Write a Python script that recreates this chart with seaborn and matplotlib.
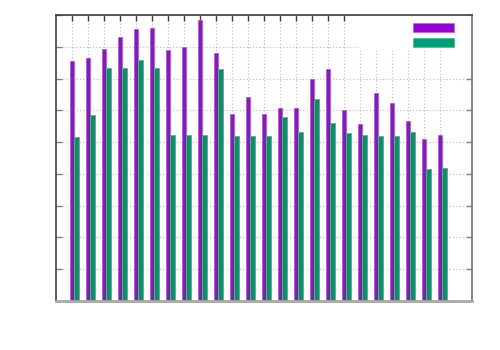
import matplotlib
matplotlib.use('Agg')
import matplotlib.pyplot as plt
from matplotlib.patches import Patch, Rectangle
import pandas as pd
import seaborn as sns

# Data (no labels shown in the original)
categories = ['c01', 'c02', 'c03', 'c04', 'c05', 'c06', 'c07', 'c08',
              'c09', 'c10', 'c11', 'c12', 'c13', 'c14', 'c15', 'c16',
              'c17', 'c18', 'c19', 'c20', 'c21', 'c22', 'c23', 'c24']
series_a = [7.57, 7.64, 7.94, 8.30, 8.58, 8.61, 7.91, 8.00,
            8.84, 7.82, 5.88, 6.42, 5.89, 6.08, 6.08, 7.00,
            7.30, 6.01, 5.56, 6.55, 6.23, 5.67, 5.11, 5.23]
series_b = [5.17, 5.86, 7.34, 7.35, 7.60, 7.33, 5.21, 5.22,
            5.22, 7.30, 5.20, 5.19, 5.19, 5.80, 5.31, 6.35,
            5.60, 5.30, 5.23, 5.19, 5.19, 5.31, 4.16, 4.18]

df = pd.DataFrame({
    'cat': categories * 2,
    'value': series_a + series_b,
    'series': ['a'] * len(categories) + ['b'] * len(categories),
})

purple = '#9400d3'
green = '#009e73'

sns.set_style('white')
fig = plt.figure(figsize=(5, 3.5), dpi=100)
ax = fig.add_axes([0.1126, 0.1409, 0.832, 0.8154])

sns.barplot(data=df, x='cat', y='value', hue='series', order=categories,
            palette=[purple, green], width=0.54, dodge=True, ax=ax,
            legend=False, zorder=2)

# lighter rim like the anti-aliased gnuplot boxes
for bar in ax.patches:
    fc = bar.get_facecolor()
    rim = tuple(c + (1 - c) * 0.3 for c in fc[:3])
    bar.set_edgecolor(rim)
    bar.set_linewidth(0.6)

n = len(categories)
ax.set_xlim(-1.135, n - 1 - 0.135 + 2)
ax.set_ylim(0, 9)
ax.set_xticks([i - 0.135 for i in range(n)])
ax.set_yticks(range(10))
ax.set_xticklabels([])
ax.set_yticklabels([])
ax.set_xlabel('')
ax.set_ylabel('')

ax.set_axisbelow(True)
ax.grid(True, color='#b8b8b8', linestyle=(0, (1, 2)), linewidth=0.8)

ax.tick_params(axis='x', direction='in', length=4, width=1, color='#404040',
               top=True, bottom=False)
ax.tick_params(axis='y', direction='in', length=4, width=1, color='#808080',
               left=True, right=True)

for side in ['left', 'top']:
    ax.spines[side].set_color('#404040')
    ax.spines[side].set_linewidth(1.2)
ax.spines['right'].set_color('#707070')
ax.spines['right'].set_linewidth(1.2)
ax.spines['bottom'].set_color('#a8a8a8')
ax.spines['bottom'].set_linewidth(2)

# opaque key area
ax.add_patch(Rectangle((0.725, 0.882), 0.275, 0.118, transform=ax.transAxes,
                       facecolor='white', edgecolor='none', zorder=1))

handles = [Patch(facecolor=purple, edgecolor='#b966e6', linewidth=0.6),
           Patch(facecolor=green, edgecolor='#4dbb9d', linewidth=0.6)]
ax.legend(handles, ['', ''], loc='upper left', bbox_to_anchor=(0.857, 0.978),
          frameon=False, fontsize=10, handlelength=2.97, handleheight=0.58,
          handletextpad=0, borderpad=0, labelspacing=0.08, borderaxespad=0)

fig.savefig('out.png', dpi=100)
